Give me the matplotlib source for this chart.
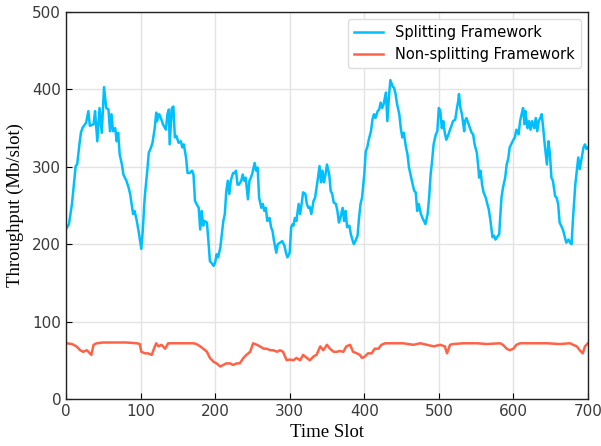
import matplotlib
matplotlib.use('Agg')
import matplotlib.pyplot as plt

# Splitting framework (blue)
split_slot = [0, 1, 4, 8, 11, 13, 15, 18, 20, 22, 24, 27, 30, 32, 37, 39, 42, 45, 48, 50,
              51, 54, 57, 59, 61, 63, 66, 68, 70, 72, 75, 77, 79, 81, 84, 86, 88, 90, 92, 95,
              98, 101, 103, 105, 106, 109, 111, 114, 116, 119, 121, 122, 125, 128, 130, 134, 136, 138, 139, 142,
              144, 146, 148, 151, 154, 156, 158, 161, 163, 166, 169, 171, 173, 175, 178, 180, 182, 184, 186, 189,
              191, 193, 195, 198, 200, 202, 204, 207, 209, 211, 213, 215, 217, 219, 221, 224, 226, 228, 230, 232,
              235, 237, 239, 241, 244, 246, 248, 250, 253, 255, 257, 259, 262, 264, 266, 268, 270, 273, 275, 277,
              279, 282, 284, 287, 290, 293, 295, 297, 300, 302, 304, 305, 307, 309, 312, 314, 316, 318, 321, 323,
              325, 327, 329, 332, 334, 336, 338, 340, 342, 344, 346, 348, 350, 353, 355, 357, 359, 362, 364, 366,
              368, 371, 373, 375, 377, 380, 382, 384, 386, 388, 391, 393, 395, 397, 400, 402, 404, 406, 409, 411,
              413, 415, 418, 420, 422, 424, 426, 429, 431, 433, 435, 438, 440, 442, 444, 447, 449, 451, 453, 456,
              458, 460, 462, 465, 467, 469, 471, 473, 476, 478, 480, 482, 485, 487, 489, 491, 493, 496, 498, 500,
              502, 504, 506, 508, 510, 513, 515, 517, 519, 522, 524, 526, 527, 529, 531, 534, 535, 537, 540, 542,
              544, 546, 548, 551, 553, 554, 556, 558, 560, 563, 565, 567, 569, 572, 574, 576, 578, 581, 582, 584,
              586, 589, 591, 593, 595, 598, 600, 602, 604, 607, 609, 611, 613, 615, 616, 619, 621, 623, 625, 628,
              630, 632, 634, 636, 638, 640, 642, 645, 647, 649, 651, 653, 656, 658, 660, 662, 665, 667, 669, 671,
              674, 676, 678, 680, 683, 685, 687, 689, 691, 694, 696, 698, 700]
split_tp = [220, 221, 226, 252, 282, 301, 303, 329, 344, 350, 353, 357, 372, 353, 355, 372, 333, 376, 344, 385,
            403, 376, 374, 346, 368, 346, 350, 333, 344, 316, 303, 290, 286, 282, 273, 265, 252, 239, 243, 230,
            213, 194, 218, 252, 265, 295, 318, 325, 331, 350, 370, 359, 368, 361, 355, 348, 368, 374, 329, 376,
            378, 338, 340, 331, 333, 325, 329, 312, 292, 292, 295, 290, 256, 252, 247, 219, 243, 224, 230, 228,
            204, 178, 176, 172, 176, 187, 183, 196, 213, 230, 239, 269, 282, 265, 282, 292, 292, 295, 277, 277,
            282, 290, 282, 286, 258, 282, 286, 292, 305, 295, 299, 260, 247, 252, 243, 247, 230, 234, 222, 217,
            204, 189, 200, 202, 204, 198, 189, 183, 189, 222, 226, 224, 234, 230, 252, 239, 252, 267, 265, 252,
            247, 248, 239, 256, 260, 273, 286, 301, 280, 295, 280, 290, 303, 290, 269, 265, 254, 252, 243, 228,
            234, 247, 230, 243, 222, 224, 213, 206, 200, 204, 211, 234, 252, 260, 290, 320, 325, 335, 346, 361,
            368, 363, 372, 374, 383, 376, 381, 396, 359, 389, 412, 404, 402, 394, 381, 368, 350, 338, 344, 325,
            316, 299, 290, 277, 269, 267, 243, 252, 239, 234, 230, 226, 239, 260, 290, 308, 329, 342, 346, 376,
            372, 350, 359, 344, 335, 342, 348, 353, 359, 361, 374, 385, 394, 376, 368, 346, 359, 363, 355, 350,
            344, 342, 329, 318, 299, 286, 295, 277, 267, 260, 252, 245, 232, 209, 211, 206, 209, 213, 230, 260,
            273, 286, 303, 310, 325, 331, 335, 338, 348, 342, 359, 368, 376, 355, 372, 350, 359, 348, 359, 350,
            363, 346, 359, 363, 368, 350, 329, 303, 333, 316, 286, 282, 262, 260, 252, 228, 222, 217, 209, 202,
            206, 202, 200, 234, 277, 295, 312, 297, 308, 325, 329, 323, 325]

# Non-splitting framework (orange)
nonsplit_slot = [0, 1, 8, 14, 19, 23, 28, 32, 34, 37, 41, 50, 63, 81, 95, 99, 101, 106, 110, 115,
                 118, 121, 124, 128, 133, 137, 153, 171, 175, 180, 184, 189, 193, 198, 202, 207, 211, 215, 220, 224,
                 229, 233, 238, 242, 247, 251, 256, 260, 265, 269, 274, 278, 283, 287, 291, 296, 300, 305, 309, 314,
                 318, 323, 327, 332, 336, 341, 345, 350, 354, 359, 363, 367, 372, 376, 381, 385, 390, 394, 397, 401,
                 405, 410, 414, 419, 423, 428, 439, 452, 466, 475, 484, 493, 502, 508, 511, 515, 519, 533, 551, 564,
                 582, 586, 591, 595, 600, 604, 609, 627, 645, 662, 676, 680, 685, 689, 693, 696, 700]
nonsplit_tp = [72, 72, 71, 68, 63, 61, 63, 59, 57, 70, 72, 73, 73, 73, 72, 71, 61, 59, 59, 57,
               65, 72, 68, 70, 65, 72, 72, 72, 71, 68, 65, 61, 53, 48, 46, 42, 44, 46, 46, 44,
               46, 46, 53, 57, 61, 72, 70, 68, 65, 65, 63, 63, 61, 63, 61, 50, 51, 50, 53, 50,
               57, 53, 50, 55, 57, 68, 63, 70, 65, 61, 61, 62, 61, 68, 70, 61, 59, 57, 53, 55,
               59, 59, 65, 65, 70, 72, 72, 72, 70, 72, 70, 68, 70, 68, 59, 70, 71, 72, 72, 71,
               72, 70, 65, 63, 65, 70, 72, 72, 72, 71, 72, 70, 68, 63, 59, 68, 72]

fig = plt.figure(figsize=(6.01, 4.46), dpi=100)
ax = fig.add_axes([0.1098, 0.1054, 0.8685, 0.8676])

ax.plot(split_slot, split_tp, color='#00BFFF', lw=1.8, label='Splitting Framework')
ax.plot(nonsplit_slot, nonsplit_tp, color='#FF6347', lw=1.8, label='Non-splitting Framework')

ax.set_xlim(0, 700)
ax.set_ylim(0, 500)
ax.set_xticks(range(0, 701, 100))
ax.set_yticks(range(0, 501, 100))
ax.grid(True, color='#e3e3e3', lw=1)
ax.set_axisbelow(True)
ax.tick_params(direction='in', labelsize=11, labelcolor='#3a3a3a', length=4)

serif = ['Liberation Serif', 'DejaVu Serif']
ax.set_xlabel('Time Slot', fontsize=13.5, family=serif, labelpad=4)
ax.set_ylabel('Throughput (Mb/slot)', fontsize=13.5, family=serif, labelpad=6)

for s in ax.spines.values():
    s.set_color('#222222')
    s.set_linewidth(1)

ax.legend(loc='upper right', fontsize=10.5, handlelength=2, framealpha=1, edgecolor='#dddddd')

fig.savefig('out.png', dpi=100)
